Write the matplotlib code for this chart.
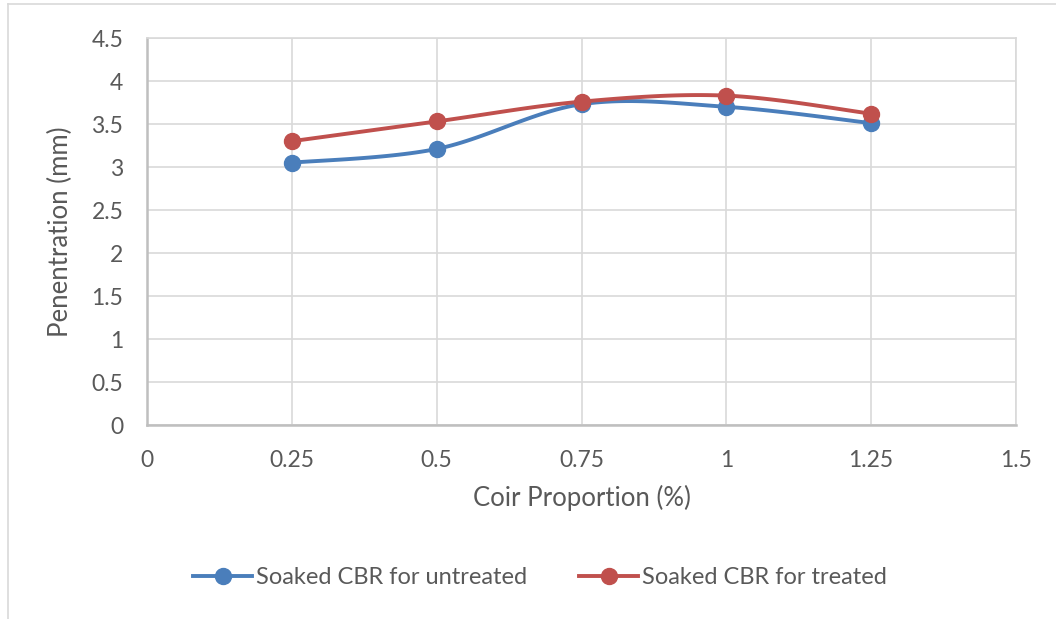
import numpy as np
import matplotlib.pyplot as plt
from matplotlib.lines import Line2D

# data
coir = [0.25, 0.5, 0.75, 1.0, 1.25]
untreated = [3.05, 3.21, 3.73, 3.70, 3.51]
treated = [3.30, 3.53, 3.76, 3.83, 3.62]

x_ticks = [0, 0.25, 0.5, 0.75, 1, 1.25, 1.5]
x_labels = ['0', '0.25', '0.5', '0.75', '1', '1.25', '1.5']
y_ticks = [0, 0.5, 1, 1.5, 2, 2.5, 3, 3.5, 4, 4.5]
y_labels = ['0', '0.5', '1', '1.5', '2', '2.5', '3', '3.5', '4', '4.5']

blue = '#4A7EBB'
red = '#C0504D'
txt = '#595959'

plt.rcParams['font.family'] = ['Lato', 'DejaVu Sans']


def smooth(x, y, n=30):
    # excel-like smoothed line: catmull-rom segments drawn as bezier curves
    x = np.asarray(x, float)
    y = np.asarray(y, float)
    px, py = [x[0]], [y[0]]
    t = np.linspace(0, 1, n)[1:]
    for i in range(len(x) - 1):
        i0 = max(i - 1, 0)
        i3 = min(i + 2, len(x) - 1)
        c1x = x[i] + (x[i + 1] - x[i0]) / 6
        c1y = y[i] + (y[i + 1] - y[i0]) / 6
        c2x = x[i + 1] - (x[i3] - x[i]) / 6
        c2y = y[i + 1] - (y[i3] - y[i]) / 6
        bx = (1 - t)**3 * x[i] + 3 * (1 - t)**2 * t * c1x + 3 * (1 - t) * t**2 * c2x + t**3 * x[i + 1]
        by = (1 - t)**3 * y[i] + 3 * (1 - t)**2 * t * c1y + 3 * (1 - t) * t**2 * c2y + t**3 * y[i + 1]
        px.extend(bx)
        py.extend(by)
    return px, py


fig = plt.figure(figsize=(10.56, 6.19), dpi=100)
ax = fig.add_axes([147 / 1056, 1 - 425 / 619, (1016 - 147) / 1056, (425 - 38) / 619])

for vals, col in [(untreated, blue), (treated, red)]:
    sx, sy = smooth(coir, vals)
    ax.plot(sx, sy, color=col, lw=2.8, solid_capstyle='round', zorder=3)
    ax.plot(coir, vals, 'o', color=col, ms=11.5, zorder=4)

ax.set_xlim(0, 1.5)
ax.set_ylim(0, 4.5)
ax.set_xticks(x_ticks)
ax.set_xticklabels(x_labels)
ax.set_yticks(y_ticks)
ax.set_yticklabels(y_labels)
ax.grid(True, color='#D9D9D9', lw=1.2)
ax.set_axisbelow(True)
ax.tick_params(length=0, labelsize=16.5, colors=txt)
ax.tick_params(axis='y', pad=17)
ax.tick_params(axis='x', pad=18)
for s in ['top', 'right']:
    ax.spines[s].set_color('#D9D9D9')
    ax.spines[s].set_linewidth(1.2)
for s in ['left', 'bottom']:
    ax.spines[s].set_color('#BFBFBF')
    ax.spines[s].set_linewidth(1.8)

ax.set_xlabel('Coir Proportion (%)', fontsize=18.5, color=txt, labelpad=10)
ax.set_ylabel('Penentration (mm)', fontsize=18.5, color=txt, labelpad=13)

handles = [Line2D([], [], color=blue, lw=2.8, marker='o', ms=11.5),
           Line2D([], [], color=red, lw=2.8, marker='o', ms=11.5)]
fig.legend(handles, ['Soaked CBR for untreated', 'Soaked CBR for treated'],
           loc='center', bbox_to_anchor=(540 / 1056, 1 - 578 / 619), ncol=2,
           frameon=False, fontsize=17, labelcolor=txt, handlelength=2.5,
           handletextpad=0.15, columnspacing=2.2)

# outer chart frame (cropped on right and bottom)
fig.add_artist(Line2D([8 / 1056, 8 / 1056], [0, 1 - 4 / 619], color='#D9D9D9', lw=1.2))
fig.add_artist(Line2D([8 / 1056, 1], [1 - 4 / 619, 1 - 4 / 619], color='#D9D9D9', lw=1.2))

fig.savefig('out.png', dpi=100)
